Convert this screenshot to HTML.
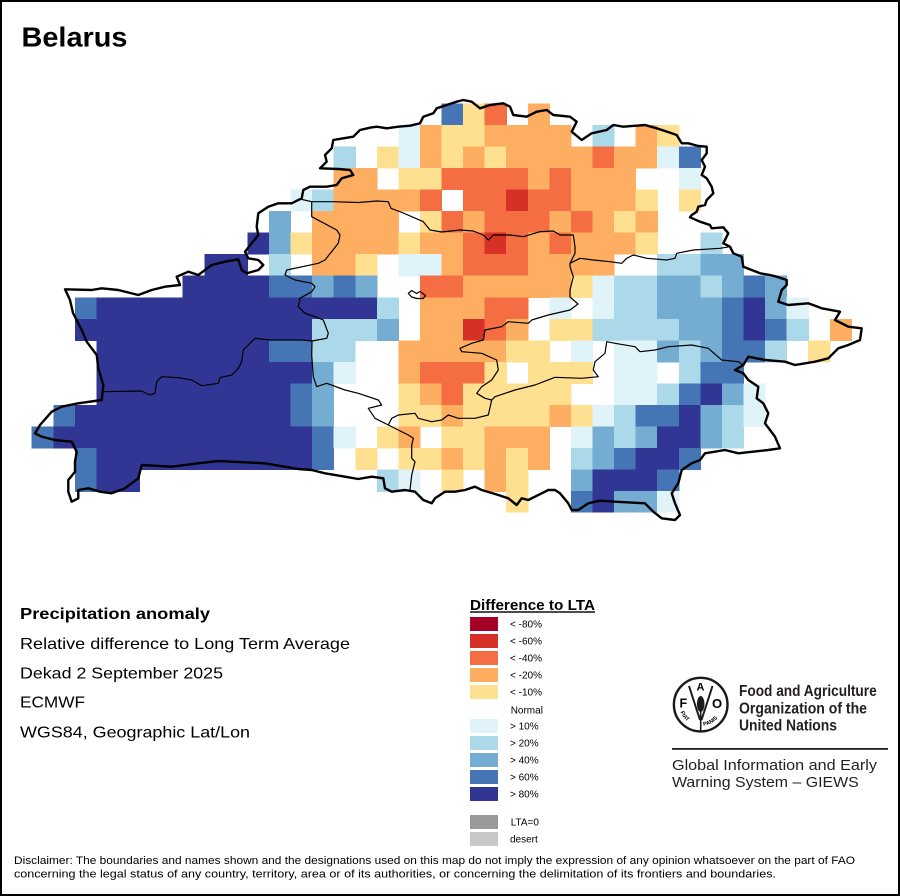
<!DOCTYPE html>
<html><head><meta charset="utf-8"><style>
html,body{margin:0;padding:0;background:#fff}
svg{display:block}
.B{fill:#4575b4}.D{fill:#313695}.m{fill:#74add1}.b{fill:#abd9e9}.l{fill:#e0f3f8}
.y{fill:#fee090}.a{fill:#fdae61}.o{fill:#f46d43}.r{fill:#d73027}.R{fill:#a50026}
text{font-family:"Liberation Sans",Arial,sans-serif;fill:#000}
</style></head><body>
<svg width="900" height="896" viewBox="0 0 900 896" xmlns="http://www.w3.org/2000/svg">
<rect x="0" y="0" width="900" height="896" fill="#fff"/>

<!-- grid cells -->
<g shape-rendering="crispEdges">
<g transform="translate(0,103.3)">
<rect x="441.5" width="22.1" height="22.1" class="B"/><rect x="463.1" width="22.1" height="22.1" class="y"/><rect x="484.7" width="22.1" height="22.1" class="o"/><rect x="527.8" width="22.1" height="22.1" class="a"/>
</g>
<g transform="translate(0,124.9)">
<rect x="398.4" width="22.1" height="22.1" class="l"/><rect x="420" width="22.1" height="22.1" class="a"/><rect x="441.5" width="43.6" height="22.1" class="y"/><rect x="484.7" width="86.8" height="22.1" class="a"/><rect x="592.5" width="22.1" height="22.1" class="b"/><rect x="635.7" width="22.1" height="22.1" class="a"/><rect x="657.2" width="22.1" height="22.1" class="y"/>
</g>
<g transform="translate(0,146.4)">
<rect x="333.7" width="22.1" height="22.1" class="b"/><rect x="376.8" width="22.1" height="22.1" class="y"/><rect x="398.4" width="22.1" height="22.1" class="l"/><rect x="420" width="22.1" height="22.1" class="a"/><rect x="441.5" width="22.1" height="22.1" class="y"/><rect x="463.1" width="22.1" height="22.1" class="a"/><rect x="484.7" width="22.1" height="22.1" class="y"/><rect x="506.2" width="86.8" height="22.1" class="a"/><rect x="592.5" width="22.1" height="22.1" class="o"/><rect x="614.1" width="43.6" height="22.1" class="a"/><rect x="657.2" width="22.1" height="22.1" class="l"/><rect x="678.8" width="22.1" height="22.1" class="B"/>
</g>
<g transform="translate(0,168)">
<rect x="333.7" width="43.6" height="22.1" class="a"/><rect x="398.4" width="43.6" height="22.1" class="y"/><rect x="441.5" width="86.8" height="22.1" class="o"/><rect x="527.8" width="22.1" height="22.1" class="a"/><rect x="549.4" width="22.1" height="22.1" class="o"/><rect x="571" width="65.2" height="22.1" class="a"/><rect x="678.8" width="22.1" height="22.1" class="l"/>
</g>
<g transform="translate(0,189.5)">
<rect x="290.5" width="22.1" height="22.1" class="l"/><rect x="312.1" width="22.1" height="22.1" class="b"/><rect x="333.7" width="86.8" height="22.1" class="a"/><rect x="420" width="22.1" height="22.1" class="o"/><rect x="463.1" width="43.6" height="22.1" class="o"/><rect x="506.2" width="22.1" height="22.1" class="r"/><rect x="527.8" width="43.6" height="22.1" class="o"/><rect x="571" width="65.2" height="22.1" class="a"/><rect x="635.7" width="22.1" height="22.1" class="y"/><rect x="678.8" width="22.1" height="22.1" class="y"/>
</g>
<g transform="translate(0,211.1)">
<rect x="269" width="22.1" height="22.1" class="m"/><rect x="312.1" width="86.8" height="22.1" class="a"/><rect x="420" width="22.1" height="22.1" class="y"/><rect x="441.5" width="22.1" height="22.1" class="o"/><rect x="463.1" width="22.1" height="22.1" class="a"/><rect x="484.7" width="65.2" height="22.1" class="o"/><rect x="549.4" width="22.1" height="22.1" class="a"/><rect x="571" width="22.1" height="22.1" class="o"/><rect x="592.5" width="22.1" height="22.1" class="a"/><rect x="614.1" width="22.1" height="22.1" class="y"/><rect x="635.7" width="22.1" height="22.1" class="a"/>
</g>
<g transform="translate(0,232.6)">
<rect x="247.4" width="22.1" height="22.1" class="D"/><rect x="269" width="22.1" height="22.1" class="m"/><rect x="290.5" width="22.1" height="22.1" class="y"/><rect x="312.1" width="86.8" height="22.1" class="a"/><rect x="398.4" width="22.1" height="22.1" class="y"/><rect x="420" width="43.6" height="22.1" class="a"/><rect x="463.1" width="22.1" height="22.1" class="o"/><rect x="484.7" width="22.1" height="22.1" class="r"/><rect x="506.2" width="22.1" height="22.1" class="o"/><rect x="527.8" width="22.1" height="22.1" class="a"/><rect x="549.4" width="22.1" height="22.1" class="o"/><rect x="571" width="65.2" height="22.1" class="a"/><rect x="635.7" width="22.1" height="22.1" class="y"/><rect x="700.4" width="22.1" height="22.1" class="b"/>
</g>
<g transform="translate(0,254.2)">
<rect x="204.3" width="43.6" height="22.1" class="D"/><rect x="269" width="22.1" height="22.1" class="b"/><rect x="312.1" width="43.6" height="22.1" class="a"/><rect x="355.3" width="22.1" height="22.1" class="y"/><rect x="398.4" width="43.6" height="22.1" class="l"/><rect x="441.5" width="22.1" height="22.1" class="a"/><rect x="463.1" width="65.2" height="22.1" class="o"/><rect x="527.8" width="86.8" height="22.1" class="a"/><rect x="657.2" width="43.6" height="22.1" class="b"/><rect x="700.4" width="43.6" height="22.1" class="m"/>
</g>
<g transform="translate(0,275.7)">
<rect x="182.7" width="86.8" height="22.1" class="D"/><rect x="269" width="43.6" height="22.1" class="B"/><rect x="312.1" width="22.1" height="22.1" class="m"/><rect x="333.7" width="22.1" height="22.1" class="B"/><rect x="355.3" width="22.1" height="22.1" class="m"/><rect x="420" width="43.6" height="22.1" class="o"/><rect x="463.1" width="108.4" height="22.1" class="a"/><rect x="571" width="22.1" height="22.1" class="y"/><rect x="592.5" width="22.1" height="22.1" class="l"/><rect x="614.1" width="43.6" height="22.1" class="b"/><rect x="657.2" width="43.6" height="22.1" class="m"/><rect x="700.4" width="22.1" height="22.1" class="b"/><rect x="721.9" width="22.1" height="22.1" class="m"/><rect x="743.5" width="22.1" height="22.1" class="B"/><rect x="765.1" width="22.1" height="22.1" class="m"/>
</g>
<g transform="translate(0,297.3)">
<rect x="74.8" width="22.1" height="22.1" class="B"/><rect x="96.4" width="280.9" height="22.1" class="D"/><rect x="376.8" width="22.1" height="22.1" class="b"/><rect x="420" width="65.2" height="22.1" class="a"/><rect x="484.7" width="43.6" height="22.1" class="o"/><rect x="549.4" width="22.1" height="22.1" class="l"/><rect x="592.5" width="22.1" height="22.1" class="l"/><rect x="614.1" width="43.6" height="22.1" class="b"/><rect x="657.2" width="65.2" height="22.1" class="m"/><rect x="721.9" width="22.1" height="22.1" class="B"/><rect x="743.5" width="22.1" height="22.1" class="D"/><rect x="765.1" width="22.1" height="22.1" class="m"/><rect x="786.7" width="22.1" height="22.1" class="l"/>
</g>
<g transform="translate(0,318.8)">
<rect x="74.8" width="237.8" height="22.1" class="D"/><rect x="312.1" width="65.2" height="22.1" class="b"/><rect x="376.8" width="22.1" height="22.1" class="m"/><rect x="420" width="43.6" height="22.1" class="a"/><rect x="463.1" width="22.1" height="22.1" class="r"/><rect x="484.7" width="22.1" height="22.1" class="o"/><rect x="506.2" width="22.1" height="22.1" class="a"/><rect x="549.4" width="43.6" height="22.1" class="y"/><rect x="592.5" width="86.8" height="22.1" class="b"/><rect x="678.8" width="43.6" height="22.1" class="m"/><rect x="721.9" width="22.1" height="22.1" class="B"/><rect x="743.5" width="22.1" height="22.1" class="D"/><rect x="765.1" width="22.1" height="22.1" class="B"/><rect x="786.7" width="22.1" height="22.1" class="b"/><rect x="829.8" width="22.1" height="22.1" class="a"/>
</g>
<g transform="translate(0,340.4)">
<rect x="96.4" width="173.1" height="22.1" class="D"/><rect x="269" width="43.6" height="22.1" class="B"/><rect x="312.1" width="43.6" height="22.1" class="b"/><rect x="398.4" width="108.4" height="22.1" class="a"/><rect x="506.2" width="43.6" height="22.1" class="y"/><rect x="571" width="22.1" height="22.1" class="l"/><rect x="614.1" width="43.6" height="22.1" class="l"/><rect x="657.2" width="22.1" height="22.1" class="m"/><rect x="678.8" width="22.1" height="22.1" class="b"/><rect x="700.4" width="22.1" height="22.1" class="m"/><rect x="721.9" width="43.6" height="22.1" class="B"/><rect x="765.1" width="22.1" height="22.1" class="b"/><rect x="808.2" width="22.1" height="22.1" class="y"/>
</g>
<g transform="translate(0,361.9)">
<rect x="96.4" width="216.2" height="22.1" class="D"/><rect x="312.1" width="22.1" height="22.1" class="m"/><rect x="333.7" width="22.1" height="22.1" class="l"/><rect x="398.4" width="22.1" height="22.1" class="a"/><rect x="420" width="65.2" height="22.1" class="o"/><rect x="484.7" width="22.1" height="22.1" class="y"/><rect x="527.8" width="65.2" height="22.1" class="y"/><rect x="614.1" width="43.6" height="22.1" class="l"/><rect x="678.8" width="22.1" height="22.1" class="b"/><rect x="700.4" width="43.6" height="22.1" class="B"/>
</g>
<g transform="translate(0,383.5)">
<rect x="96.4" width="194.6" height="22.1" class="D"/><rect x="290.5" width="22.1" height="22.1" class="B"/><rect x="312.1" width="22.1" height="22.1" class="m"/><rect x="398.4" width="22.1" height="22.1" class="y"/><rect x="420" width="22.1" height="22.1" class="a"/><rect x="441.5" width="22.1" height="22.1" class="o"/><rect x="463.1" width="108.4" height="22.1" class="y"/><rect x="614.1" width="43.6" height="22.1" class="l"/><rect x="657.2" width="22.1" height="22.1" class="b"/><rect x="678.8" width="22.1" height="22.1" class="B"/><rect x="700.4" width="22.1" height="22.1" class="D"/><rect x="721.9" width="22.1" height="22.1" class="m"/><rect x="743.5" width="22.1" height="22.1" class="l"/>
</g>
<g transform="translate(0,405)">
<rect x="53.3" width="22.1" height="22.1" class="B"/><rect x="74.8" width="216.2" height="22.1" class="D"/><rect x="290.5" width="22.1" height="22.1" class="B"/><rect x="312.1" width="22.1" height="22.1" class="m"/><rect x="398.4" width="43.6" height="22.1" class="y"/><rect x="441.5" width="22.1" height="22.1" class="a"/><rect x="463.1" width="86.8" height="22.1" class="y"/><rect x="549.4" width="22.1" height="22.1" class="a"/><rect x="571" width="22.1" height="22.1" class="y"/><rect x="592.5" width="22.1" height="22.1" class="l"/><rect x="614.1" width="22.1" height="22.1" class="b"/><rect x="635.7" width="43.6" height="22.1" class="B"/><rect x="678.8" width="22.1" height="22.1" class="D"/><rect x="700.4" width="22.1" height="22.1" class="m"/><rect x="721.9" width="22.1" height="22.1" class="b"/><rect x="743.5" width="22.1" height="22.1" class="l"/>
</g>
<g transform="translate(0,426.6)">
<rect x="31.7" width="22.1" height="22.1" class="B"/><rect x="53.3" width="259.3" height="22.1" class="D"/><rect x="312.1" width="22.1" height="22.1" class="B"/><rect x="333.7" width="22.1" height="22.1" class="l"/><rect x="376.8" width="22.1" height="22.1" class="y"/><rect x="398.4" width="22.1" height="22.1" class="a"/><rect x="441.5" width="43.6" height="22.1" class="y"/><rect x="484.7" width="65.2" height="22.1" class="a"/><rect x="571" width="22.1" height="22.1" class="l"/><rect x="592.5" width="22.1" height="22.1" class="m"/><rect x="614.1" width="22.1" height="22.1" class="b"/><rect x="635.7" width="22.1" height="22.1" class="m"/><rect x="657.2" width="43.6" height="22.1" class="D"/><rect x="700.4" width="22.1" height="22.1" class="m"/><rect x="721.9" width="22.1" height="22.1" class="b"/>
</g>
<g transform="translate(0,448.1)">
<rect x="74.8" width="22.1" height="22.1" class="B"/><rect x="96.4" width="216.2" height="22.1" class="D"/><rect x="312.1" width="22.1" height="22.1" class="B"/><rect x="355.3" width="22.1" height="22.1" class="y"/><rect x="398.4" width="43.6" height="22.1" class="y"/><rect x="441.5" width="22.1" height="22.1" class="a"/><rect x="463.1" width="22.1" height="22.1" class="y"/><rect x="484.7" width="22.1" height="22.1" class="a"/><rect x="506.2" width="22.1" height="22.1" class="y"/><rect x="527.8" width="22.1" height="22.1" class="a"/><rect x="571" width="22.1" height="22.1" class="b"/><rect x="592.5" width="22.1" height="22.1" class="m"/><rect x="614.1" width="22.1" height="22.1" class="B"/><rect x="635.7" width="43.6" height="22.1" class="D"/><rect x="678.8" width="22.1" height="22.1" class="B"/>
</g>
<g transform="translate(0,469.7)">
<rect x="74.8" width="22.1" height="22.1" class="B"/><rect x="96.4" width="43.6" height="22.1" class="D"/><rect x="376.8" width="22.1" height="22.1" class="b"/><rect x="398.4" width="22.1" height="22.1" class="l"/><rect x="441.5" width="22.1" height="22.1" class="y"/><rect x="484.7" width="22.1" height="22.1" class="a"/><rect x="506.2" width="22.1" height="22.1" class="y"/><rect x="571" width="22.1" height="22.1" class="m"/><rect x="592.5" width="65.2" height="22.1" class="D"/><rect x="657.2" width="22.1" height="22.1" class="B"/>
</g>
<g transform="translate(0,491.2)">
<rect x="506.2" width="22.1" height="21.5" class="y"/><rect x="571" width="22.1" height="21.5" class="B"/><rect x="592.5" width="22.1" height="21.5" class="D"/><rect x="614.1" width="43.6" height="21.5" class="m"/><rect x="657.2" width="22.1" height="21.5" class="l"/>
</g>
</g>

<!-- internal boundaries -->
<g fill="none" stroke="#000" stroke-width="1.2" stroke-linejoin="round">
<polyline points="300,199 311.7,201.7 333.3,201.7 358.3,202.5 376.7,201 388.3,201.7 391,208.3 403.3,213 423.3,221.7 430,230 441.7,232 460,230 473.3,231 483.3,235 488.3,240 493.3,235 510,235 523.3,236.7 540,231.7 553.3,231 560,235 573.3,235 575,246.7 575,253.3 570,263.3 580,258.3 593.3,260 610,261.7 621.7,263.3 626.7,258.3 633.3,255 646.7,258.3 666.7,260 675,258.3 676.7,253.3 693.3,250 720,248.3 730,246.7"/>
<polyline points="311.7,202 311.7,216.7 336.7,230 340,235 338.3,243.3 325,260 318.3,263.3 286.7,270 285,275 295,280 311.7,283.3 315,286.7 311.7,291.7 300,298.3 298.3,306.7 305,313.3 315,316.7 323.3,320 328.3,333.3 326.7,338.3 312,341"/>
<polyline points="101.7,391.7 141.7,391 150,395 155,393.3 156.7,381.7 161.7,376.7 178.3,377.7 191.7,380 201.7,385.7 218.3,383.3 220,377.7 231.7,375 238.3,368.3 241.7,361.7 243.3,350 255,338.3 270,340 301.7,340 312,341"/>
<polyline points="312,341 311.7,355 313.3,376.7 316.7,386.7 326.7,383.3 345,390 358.3,393.3 378.3,400 381.7,405 368.3,408.3 375,418.3 388.3,425 398.3,430 408.3,435 413.3,438.3 411.7,445 411.7,458.3 415,461.7 411.7,475 410,490"/>
<polyline points="388.3,425 391.7,418.3 398.3,415 415,413.3 418.3,418.3 431.7,421.7 441.7,420 448.3,415 458.3,418.3 475,418.3 488.3,415 491.7,400 485,398.3 476.7,393.3 481.7,386.7 491.7,380 498.3,370 496.7,360 481.7,353.3 461.7,351.7 460,348.3 471.7,343.3 483.3,340 485,330 501.7,326.7 508.3,321.7 528.3,323.3 531.7,320 548.3,315 570,310 578,304 570,297 570,290 573.3,276.7 570,266.7 570,263.3"/>
<polyline points="491.7,400 495,396.7 515,390 535,385 555,377.3 581.7,378.3 598.3,376.7 593.3,370 595,361.7 605,353.3 606.7,341.7 615,343.3 635,346.7 640,351.7 655,350 668.3,346.7 691.7,345 708.3,348.3 721.7,360 738.3,361.7 743.3,365"/>
<polygon points="408.3,293.3 411.7,290.5 416.7,293.5 420,291.5 425.5,295.5 423.3,298.5 416.7,298.5 411.7,297"/>
</g>

<!-- country outline -->
<polygon fill="none" stroke="#000" stroke-width="2.4" stroke-linejoin="round" points="65,289.3 91.7,290 101.7,288.3 118.3,290 138.3,295 151.7,290 165,286.7 180,285 176.7,276.7 188.3,271.7 198.3,275 211.7,265 225,261.7 238.3,259.3 241.7,270 246.7,273.3 258.3,270 263.3,265 258.3,260 248.3,258.3 245,251.7 251.7,243.3 258.3,235 256.7,226.7 258.3,213.3 268.3,206.7 278.3,203.3 291.7,203.3 301.7,198.3 303.3,190 310,186.7 326.7,186.7 336.7,185 341.7,178.3 353.3,175 350,170 338.3,169 320,168.3 326.7,161.7 325,155 331.7,148.3 333.3,140 343.3,138.3 353.3,136.7 360,130 370,127.7 376.7,126.7 386.7,128.3 398.3,126.7 410,125.7 420,123.3 423.3,116.7 433.3,113.3 436.7,108.3 446.7,105 456.7,101.7 463.3,100 471.7,101.7 480,108.3 490,105 503.3,103.3 510,106.7 513.3,115 526.7,116.7 536.7,111.7 546.7,110 553.3,115 570,116.7 576.7,121.7 571.7,131.7 581.7,140 591.7,133.3 606.7,130 613.3,125 623.3,126.7 645,125 656.7,128.3 668,132 676.7,135 681.7,143.3 688.3,143.3 698.3,146 706.7,146.7 706.7,153.3 701.7,160 705,166.7 701.7,175 706.7,178.3 711.7,186.7 713.3,193.3 706.7,200 705,205 698.3,206.7 696.7,211.7 691.7,215 690,217.3 700,221.7 710,225 711.7,228.3 723.3,227.3 728.3,233.3 723.3,243.3 730,246.7 733.3,253.3 741.7,256.7 743.3,266.7 751.7,270 760,273.3 770,275 776.7,276.7 786.7,280 786.7,285 781.7,290 778.3,301.7 788.3,305 808.3,303.3 821.7,308.3 840,311.7 835,320 848.3,326.7 861.7,328.3 860,340 848.3,345 838.3,348.3 828.3,358.3 815,361.7 795,365 785,361.7 765,360 748.3,356.7 743.3,365 735,370 743.3,373.3 748.3,380 758.3,386.7 756.7,398.3 763.3,403.3 768.3,413.3 765,423.3 770,430 775,436.7 780,448.3 768.3,450 738.3,453.3 725,450 705,453.3 700,460 691.7,463.3 681.7,470 678.3,483.3 671.7,493.3 675,503.3 680,515 675,520 661.7,518.3 653.3,511.7 645,503.3 615,501.7 600,500.7 588.3,503.3 578.3,510 571.7,510 568.3,503.3 560,493.3 555,490 548.3,490 541.7,493.3 528.3,500 521.7,498.3 516.7,505 508.3,498.3 498.3,495 481.7,490 475,486.7 465,490 455,491.7 445,491.7 435,498.3 431.7,503.3 423.3,500 415,491.7 405,490 391.7,491.7 385,488.3 383.3,478.3 371.7,476.7 358.3,479 345,476.7 325,473.3 311.7,470 298.3,469 265,463.3 218.3,461 198.3,463.3 171.7,466.7 141.7,465 138.3,478.3 125,488.3 111.7,493.3 100,491.7 88.3,488.3 78.3,490 78.3,498.3 71.7,501.7 68.3,491.7 68.3,480 75,471.7 75,461.7 76.7,451.7 71.7,441.7 55,440 41.7,436.7 35,433.3 40,425 51.7,411.7 61.7,406.7 78.3,403.3 101.7,400 103.3,385 98.3,368.3 96.7,355 86.7,341.7 81.7,330 73,313 70,300"/>

<!-- title -->
<text x="21.5" y="46.7" font-size="28" font-weight="bold" textLength="106" lengthAdjust="spacingAndGlyphs">Belarus</text>

<!-- left text block -->
<text x="20" y="619" font-size="16" font-weight="bold" textLength="190" lengthAdjust="spacingAndGlyphs">Precipitation anomaly</text>
<text x="20" y="649" font-size="16" textLength="330" lengthAdjust="spacingAndGlyphs">Relative difference to Long Term Average</text>
<text x="20" y="678.3" font-size="16" textLength="203" lengthAdjust="spacingAndGlyphs">Dekad 2 September 2025</text>
<text x="20" y="707.7" font-size="16" textLength="65" lengthAdjust="spacingAndGlyphs">ECMWF</text>
<text x="20" y="737.7" font-size="16" textLength="230" lengthAdjust="spacingAndGlyphs">WGS84, Geographic Lat/Lon</text>

<!-- legend -->
<text x="470" y="610" font-size="15" font-weight="bold" textLength="125" lengthAdjust="spacingAndGlyphs">Difference to LTA</text>
<rect x="470" y="611.3" width="125" height="1.4" fill="#000"/>
<g shape-rendering="crispEdges">
<rect x="470" y="617" width="28" height="14" class="R"/>
<rect x="470" y="634" width="28" height="14" class="r"/>
<rect x="470" y="651" width="28" height="14" class="o"/>
<rect x="470" y="668" width="28" height="14" class="a"/>
<rect x="470" y="685" width="28" height="14" class="y"/>
<rect x="470" y="719" width="28" height="14" class="l"/>
<rect x="470" y="736" width="28" height="14" class="b"/>
<rect x="470" y="753" width="28" height="14" class="m"/>
<rect x="470" y="770" width="28" height="14" class="B"/>
<rect x="470" y="787" width="28" height="14" class="D"/>
<rect x="470" y="815" width="28" height="14" fill="#999999"/>
<rect x="470" y="832" width="28" height="14" fill="#c8c8c8"/>
</g>
<g font-size="10">
<text x="510" y="627.7">&lt; -80%</text>
<text x="510" y="644.7">&lt; -60%</text>
<text x="510" y="661.7">&lt; -40%</text>
<text x="510" y="678.7">&lt; -20%</text>
<text x="510" y="695.7">&lt; -10%</text>
<text x="510.7" y="713.3">Normal</text>
<text x="510" y="729.7">&gt; 10%</text>
<text x="510" y="746.7">&gt; 20%</text>
<text x="510" y="763.7">&gt; 40%</text>
<text x="510" y="780.7">&gt; 60%</text>
<text x="510" y="797.7">&gt; 80%</text>
<text x="510.7" y="825.7">LTA=0</text>
<text x="510" y="842.7">desert</text>
</g>

<!-- FAO logo -->
<g>
<circle cx="700.7" cy="704.6" r="26.8" fill="none" stroke="#1a1a1a" stroke-width="2.4"/>
<text x="679.5" y="707.5" font-size="12.5" font-weight="bold" fill="#1a1a1a">F</text>
<text x="696.5" y="690.5" font-size="11" font-weight="bold" fill="#1a1a1a">A</text>
<text x="712" y="708" font-size="13" font-weight="bold" fill="#1a1a1a">O</text>
<path d="M689,686 L700,720 M712.5,686 L701.5,720" stroke="#1a1a1a" stroke-width="2" fill="none"/>
<ellipse cx="700.7" cy="704" rx="3.8" ry="8" fill="#1a1a1a"/>
<line x1="700.7" y1="711" x2="700.7" y2="731" stroke="#1a1a1a" stroke-width="1.6"/>
<path id="fiat" d="M680.5,712 A21.5,21.5 0 0 0 698,725.8" fill="none"/>
<path id="panis" d="M703.5,725.8 A21.5,21.5 0 0 0 721.5,711" fill="none"/>
<text font-size="5.5" font-weight="bold" fill="#1a1a1a"><textPath href="#fiat">FIAT</textPath></text>
<text font-size="5.5" font-weight="bold" fill="#1a1a1a"><textPath href="#panis">PANIS</textPath></text>
</g>
<g fill="#231f20">
<text x="739" y="696" font-size="15.5" font-weight="bold" textLength="137.7" lengthAdjust="spacingAndGlyphs" style="fill:#231f20">Food and Agriculture</text>
<text x="739" y="713.3" font-size="15.5" font-weight="bold" textLength="128" lengthAdjust="spacingAndGlyphs" style="fill:#231f20">Organization of the</text>
<text x="739" y="730.5" font-size="15.5" font-weight="bold" textLength="98" lengthAdjust="spacingAndGlyphs" style="fill:#231f20">United Nations</text>
</g>
<rect x="672" y="748" width="216" height="1.8" fill="#231f20"/>
<text x="672" y="770" font-size="15" textLength="205" lengthAdjust="spacingAndGlyphs" style="fill:#231f20">Global Information and Early</text>
<text x="672" y="787" font-size="15" textLength="186.7" lengthAdjust="spacingAndGlyphs" style="fill:#231f20">Warning System – GIEWS</text>

<!-- disclaimer -->
<text x="14" y="864" font-size="11" textLength="841" lengthAdjust="spacingAndGlyphs">Disclaimer: The boundaries and names shown and the designations used on this map do not imply the expression of any opinion whatsoever on the part of FAO</text>
<text x="14" y="877.7" font-size="11" textLength="762" lengthAdjust="spacingAndGlyphs">concerning the legal status of any country, territory, area or of its authorities, or concerning the delimitation of its frontiers and boundaries.</text>

<!-- frame -->
<rect x="1" y="1" width="898" height="894" fill="none" stroke="#000" stroke-width="2"/>
</svg>
</body></html>
